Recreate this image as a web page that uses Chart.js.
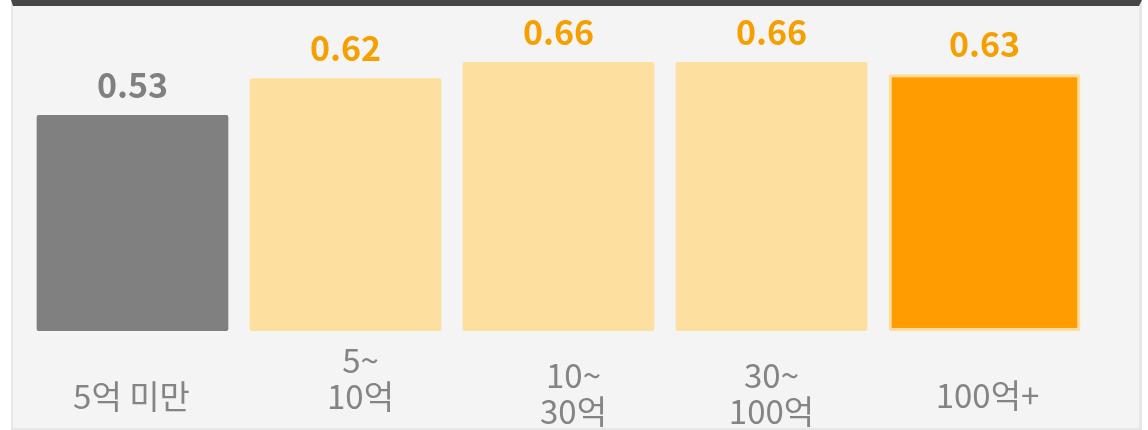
<!DOCTYPE html>
<html>
<head>
<meta charset="utf-8">
<script src="https://cdn.jsdelivr.net/npm/chart.js@4.4.1/dist/chart.umd.min.js"></script>
<style>
  html, body { margin: 0; padding: 0; background: #fff; }
  .card {
    position: absolute; left: 11px; top: 0; width: 1131px; height: 430px;
    box-sizing: border-box; background: #f4f4f4;
    border-top: 6px solid #464646; border-left: 2px solid #e7e7e7;
    border-right: 3px solid #e7e7e7; border-bottom: 2px solid #e7e7e7;
  }
  .wrap { position: absolute; left: 0; top: 0; width: 1148px; height: 430px; }
</style>
</head>
<body>
<div class="card"></div>
<div class="wrap"><canvas id="chart"></canvas></div>
<script>
// data
const categories = [['5억 미만'], ['5~', '10억'], ['10~', '30억'], ['30~', '100억'], ['100억+']];
const values = [0.53, 0.62, 0.66, 0.66, 0.63];

// styles
const barColors = ['#808080', '#fddf9f', '#fddf9f', '#fddf9f', '#ff9c00'];
const barBorders = ['#808080', '#fddf9f', '#fddf9f', '#fddf9f', '#fddc9c'];
const valueColors = ['#808080', '#f5a000', '#f5a000', '#f5a000', '#f5a000'];
// where each category label sits, relative to the axis pixel / plot bottom
const tickPlace = [
  { dx: -1, dy: 65 },
  { dx: 15, dy: 29 },
  { dx: 15, dy: 44 },
  { dx: 0, dy: 44 },
  { dx: 3, dy: 64 }
];

const valueLabels = {
  id: 'valueLabels',
  afterDatasetsDraw(chart) {
    const ctx = chart.ctx;
    const meta = chart.getDatasetMeta(0);
    ctx.save();
    ctx.font = 'bold 34px "Noto Sans CJK KR"';
    ctx.textAlign = 'center';
    ctx.textBaseline = 'middle';
    meta.data.forEach((bar, i) => {
      ctx.fillStyle = valueColors[i];
      ctx.fillText(values[i].toFixed(2), bar.x, bar.y - 30);
    });
    ctx.restore();
  }
};

const tickLabels = {
  id: 'tickLabels',
  afterDraw(chart) {
    const ctx = chart.ctx;
    const xs = chart.scales.x;
    const bottom = chart.chartArea.bottom;
    ctx.save();
    ctx.font = '33px "Noto Sans CJK KR"';
    ctx.fillStyle = '#848484';
    ctx.textAlign = 'center';
    ctx.textBaseline = 'middle';
    categories.forEach((lines, i) => {
      const cx = xs.getPixelForValue(i) + tickPlace[i].dx;
      lines.forEach((t, j) => ctx.fillText(t, cx, bottom + tickPlace[i].dy + j * 36));
    });
    ctx.restore();
  }
};

new Chart(document.getElementById('chart').getContext('2d'), {
  type: 'bar',
  data: {
    labels: categories.map(c => c.join(' ')),
    datasets: [{
      data: values,
      backgroundColor: barColors,
      borderColor: barBorders,
      borderWidth: [0, 0, 0, 0, 3],
      borderRadius: 2,
      borderSkipped: false,
      barPercentage: 0.9,
      categoryPercentage: 1.0
    }]
  },
  options: {
    responsive: true,
    maintainAspectRatio: false,
    animation: false,
    layout: { padding: { left: 26, right: 57, top: 5, bottom: 99 } },
    scales: {
      x: { display: false },
      y: { display: false, min: 0, max: 0.8 }
    },
    plugins: {
      legend: { display: false },
      tooltip: { enabled: false }
    }
  },
  plugins: [valueLabels, tickLabels]
});
</script>
</body>
</html>
